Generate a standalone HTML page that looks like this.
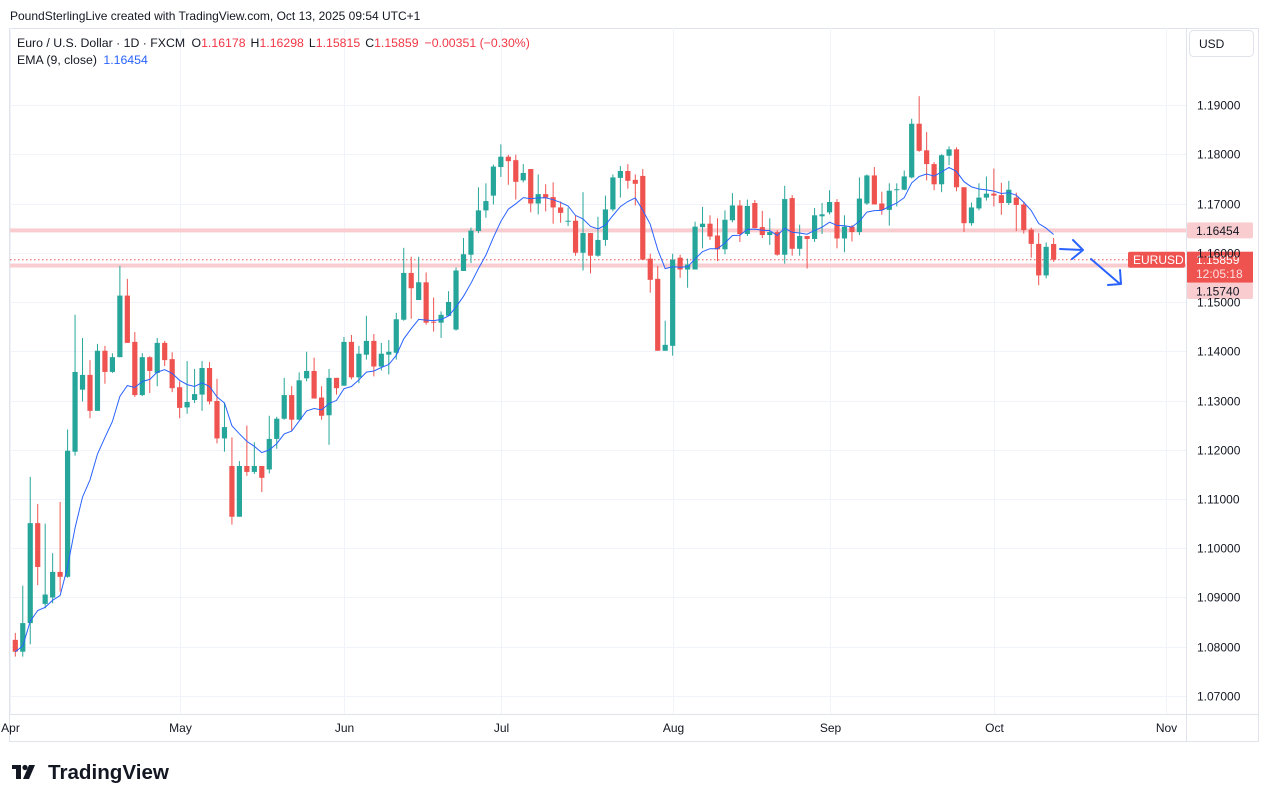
<!DOCTYPE html>
<html><head><meta charset="utf-8">
<style>
html,body{margin:0;padding:0;background:#fff;}
body{width:1268px;height:802px;overflow:hidden;position:relative;font-family:"Liberation Sans",sans-serif;}
svg{position:absolute;left:0;top:0;}
</style></head>
<body>
<svg id="chart" width="1268" height="802" viewBox="0 0 1268 802" xmlns="http://www.w3.org/2000/svg">
  <text x="10" y="20" font-size="12" fill="#131722" font-family="Liberation Sans, sans-serif">PoundSterlingLive created with TradingView.com, Oct 13, 2025 09:54 UTC+1</text>
  <rect x="9.5" y="28.5" width="1249" height="713" fill="none" stroke="#e0e3eb"/>
  <g id="grid"></g>
  <g id="levels"></g>
  <g id="candles"></g>
  <g id="ema"></g>
  <g id="overlay"></g>
  <line x1="1186.5" y1="28" x2="1186.5" y2="742" stroke="#e0e3eb"/>
  <line x1="9" y1="714.5" x2="1258" y2="714.5" stroke="#e0e3eb"/>
  <g id="yaxis"></g>
  <g id="xaxis"></g>
  <rect x="1189.5" y="30.5" width="64" height="26" rx="4" fill="#fff" stroke="#e0e3eb"/>
  <text x="1199" y="48" font-size="12" fill="#131722" font-family="Liberation Sans, sans-serif">USD</text>
  <text x="17" y="47" font-size="12.3" fill="#131722" font-family="Liberation Sans, sans-serif">Euro / U.S. Dollar · 1D · FXCM <tspan dx="3">O</tspan><tspan fill="#f23645">1.16178</tspan><tspan dx="5">H</tspan><tspan fill="#f23645">1.16298</tspan><tspan dx="5">L</tspan><tspan fill="#f23645">1.15815</tspan><tspan dx="5">C</tspan><tspan fill="#f23645">1.15859</tspan><tspan dx="6" fill="#f23645">−0.00351 (−0.30%)</tspan></text>
  <text x="17" y="64" font-size="12.3" fill="#131722" font-family="Liberation Sans, sans-serif">EMA (9, close) <tspan dx="3" fill="#2962ff">1.16454</tspan></text>
  <g>
    <rect x="12" y="765" width="9" height="4" fill="#131722"/>
    <rect x="16" y="765" width="5" height="14" fill="#131722"/>
    <circle cx="25" cy="767.5" r="2.6" fill="#131722"/>
    <polygon points="29,765 35,765 29,779 23,779" fill="#131722"/>
    <text x="48" y="779" font-size="20.6" font-weight="bold" fill="#131722" font-family="Liberation Sans, sans-serif">TradingView</text>
  </g>
</svg>
<script>
const dates = ["Apr","May","Jun","Jul","Aug","Sep","Oct","Nov"];
const dateBarIdx = [-0.7,22,44,65,88,109,131,154];
const priceTicks = [1.07,1.08,1.09,1.10,1.11,1.12,1.13,1.14,1.15,1.16,1.17,1.18,1.19];
const opens = [1.0814,1.0790,1.0848,1.1051,1.0887,1.0900,1.0952,1.0942,1.1196,1.1322,1.1352,1.1279,1.1401,1.1358,1.1388,1.1513,1.1419,1.1311,1.1388,1.1356,1.1417,1.1384,1.1327,1.1286,1.1301,1.1312,1.1366,1.1299,1.1223,1.1167,1.1064,1.1167,1.1155,1.1167,1.1160,1.1222,1.1263,1.1311,1.1261,1.1345,1.1360,1.1306,1.1270,1.1346,1.1330,1.1419,1.1347,1.1393,1.1421,1.1369,1.1393,1.1397,1.1464,1.1559,1.1504,1.1540,1.1460,1.1458,1.1472,1.1444,1.1563,1.1596,1.1644,1.1686,1.1716,1.1774,1.1795,1.1788,1.1747,1.1770,1.1700,1.1719,1.1713,1.1692,1.1663,1.1665,1.1600,1.1640,1.1594,1.1626,1.1688,1.1752,1.1766,1.1748,1.1756,1.1588,1.1547,1.1401,1.1411,1.1590,1.1566,1.1566,1.1652,1.1659,1.1635,1.1607,1.1666,1.1696,1.1638,1.1701,1.1652,1.1636,1.1642,1.1596,1.1711,1.1608,1.1634,1.1628,1.1674,1.1682,1.1703,1.1629,1.1653,1.1642,1.1700,1.1757,1.1700,1.1687,1.1727,1.1728,1.1753,1.1862,1.1808,1.1780,1.1739,1.1797,1.1810,1.1733,1.1660,1.1690,1.1712,1.1720,1.1717,1.1701,1.1712,1.1698,1.1647,1.1618,1.1554,1.16178];
const highs = [1.0828,1.0924,1.1145,1.1090,1.1050,1.0990,1.1094,1.1241,1.1474,1.1427,1.1382,1.1415,1.1411,1.1396,1.1573,1.1547,1.1439,1.1396,1.1390,1.1427,1.1421,1.1398,1.1339,1.1380,1.1364,1.1380,1.1378,1.1344,1.1296,1.1225,1.1177,1.1249,1.1215,1.1167,1.1269,1.1267,1.1346,1.1329,1.1357,1.1399,1.1387,1.1329,1.1364,1.1346,1.1429,1.1433,1.1411,1.1472,1.1435,1.1417,1.1423,1.1478,1.1610,1.1592,1.1592,1.1560,1.1509,1.1481,1.1522,1.1570,1.1630,1.1651,1.1733,1.1741,1.1779,1.1820,1.1799,1.1799,1.1780,1.1770,1.1759,1.1739,1.1743,1.1704,1.1692,1.1675,1.1723,1.1640,1.1673,1.1716,1.1759,1.1776,1.1780,1.1759,1.1770,1.1598,1.1573,1.1462,1.1598,1.1596,1.1588,1.1663,1.1693,1.1676,1.1670,1.1686,1.1721,1.1707,1.1708,1.1707,1.1685,1.1670,1.1646,1.1736,1.1717,1.1657,1.1634,1.1691,1.1701,1.1727,1.1709,1.1676,1.1656,1.1753,1.1759,1.1774,1.1724,1.1741,1.1741,1.1767,1.1872,1.1918,1.1845,1.1784,1.1800,1.1816,1.1814,1.1733,1.1702,1.1741,1.1755,1.1771,1.1742,1.1746,1.1722,1.1704,1.1651,1.1640,1.1621,1.16298];
const lows = [1.0780,1.0780,1.0805,1.0925,1.0878,1.0888,1.0912,1.0940,1.1188,1.1298,1.1264,1.1279,1.1334,1.1356,1.1388,1.1417,1.1307,1.1309,1.1315,1.1329,1.1370,1.1317,1.1264,1.1273,1.1295,1.1279,1.1292,1.1213,1.1196,1.1048,1.1064,1.1147,1.1151,1.1114,1.1152,1.1202,1.1261,1.1239,1.1261,1.1339,1.1304,1.1261,1.1210,1.1312,1.1330,1.1343,1.1335,1.1383,1.1349,1.1361,1.1353,1.1383,1.1462,1.1466,1.1504,1.1454,1.1440,1.1427,1.1472,1.1442,1.1563,1.1579,1.1640,1.1671,1.1698,1.1754,1.1738,1.1708,1.1743,1.1682,1.1678,1.1684,1.1659,1.1661,1.1654,1.1594,1.1564,1.1558,1.1592,1.1614,1.1684,1.1712,1.1730,1.1696,1.1586,1.1519,1.1401,1.1401,1.1391,1.1549,1.1529,1.1566,1.1609,1.1626,1.1583,1.1597,1.1662,1.1622,1.1634,1.1650,1.1630,1.1616,1.1594,1.1578,1.1594,1.1594,1.1568,1.1622,1.1638,1.1678,1.1609,1.1601,1.1623,1.1636,1.1697,1.1698,1.1677,1.1655,1.1694,1.1727,1.1751,1.1805,1.1747,1.1727,1.1723,1.1778,1.1725,1.1642,1.1655,1.1686,1.1706,1.1694,1.1677,1.1697,1.1644,1.1639,1.1590,1.1534,1.1548,1.15815];
const closes = [1.0790,1.0848,1.1051,1.0962,1.0906,1.0952,1.0942,1.1198,1.1358,1.1352,1.1279,1.1401,1.1358,1.1388,1.1513,1.1417,1.1311,1.1388,1.1360,1.1417,1.1382,1.1325,1.1285,1.1297,1.1313,1.1366,1.1298,1.1223,1.1246,1.1064,1.1167,1.1155,1.1167,1.1143,1.1222,1.1263,1.1311,1.1261,1.1341,1.1360,1.1304,1.1269,1.1346,1.1325,1.1419,1.1347,1.1395,1.1421,1.1369,1.1395,1.1399,1.1465,1.1559,1.1528,1.1540,1.1458,1.1458,1.1474,1.1500,1.1564,1.1597,1.1645,1.1686,1.1705,1.1775,1.1795,1.1786,1.1744,1.1762,1.1700,1.1719,1.1712,1.1692,1.1681,1.1665,1.1600,1.1640,1.1594,1.1626,1.1688,1.1753,1.1766,1.1746,1.1740,1.1586,1.1545,1.1401,1.1413,1.1586,1.1566,1.1576,1.1653,1.1659,1.1633,1.1607,1.1667,1.1696,1.1638,1.1695,1.1650,1.1636,1.1642,1.1596,1.1709,1.1608,1.1634,1.1628,1.1676,1.1678,1.1703,1.1629,1.1653,1.1642,1.1710,1.1757,1.1698,1.1687,1.1726,1.1729,1.1755,1.1862,1.1807,1.1780,1.1739,1.1798,1.1810,1.1733,1.1660,1.1692,1.1712,1.1720,1.1716,1.1701,1.1728,1.1697,1.1646,1.1618,1.1554,1.1612,1.15859];
const levelPrices = [1.16454, 1.15740];
const lastPrice = 1.15859;
const NS = "http://www.w3.org/2000/svg";
const yS = p => 105 + (1.19 - p) * 4925;
const xS = i => 15.3 + i * 7.47;
function mk(tag, attrs, parent, txt){
  const e = document.createElementNS(NS, tag);
  for (const k in attrs) e.setAttribute(k, attrs[k]);
  if (txt !== undefined) e.textContent = txt;
  parent.appendChild(e);
  return e;
}
const grid = document.getElementById('grid');
const yaxis = document.getElementById('yaxis');
const xaxis = document.getElementById('xaxis');
priceTicks.forEach(p => {
  const y = Math.round(yS(p)) + 0.5;
  const gl = mk('line', {x1:10, x2:1186, y1:y, y2:y, stroke:'#f0f3fa'}, grid);
  
  
  const t = mk('text', {x:1197, y:y+4, 'font-size':12, fill:'#131722', 'font-family':'Liberation Sans, sans-serif'}, yaxis, p.toFixed(5));
  
  
});
dates.forEach((d, k) => {
  const x = Math.round(xS(dateBarIdx[k])) + 0.5;
  const gl = mk('line', {x1:x, x2:x, y1:28, y2:714, stroke:'#f0f3fa'}, grid);
  
  
  const t = mk('text', {x:x, y:732, 'font-size':12, fill:'#131722', 'text-anchor':'middle', 'font-family':'Liberation Sans, sans-serif'}, xaxis, d);
  
  
});
const levels = document.getElementById('levels');
levelPrices.forEach(p => {
  const y = yS(p);
  const l = mk('rect', {x:10, y:y-2, width:1176, height:4, fill:'#f9cdd0'}, levels);
  
  
});
const pl = mk('line', {x1:10, x2:1186, y1:yS(lastPrice), y2:yS(lastPrice), stroke:'#ef5350', 'stroke-dasharray':'1.5 2.5'}, levels);


const cg = document.getElementById('candles');
for (let i = 0; i < closes.length; i++) {
  const up = closes[i] >= opens[i];
  const col = up ? '#26a69a' : '#ef5350';
  const x = xS(i);
  const g = mk('g', {}, cg);
  
  
  mk('line', {x1:x, x2:x, y1:yS(highs[i]), y2:yS(lows[i]), stroke:col, 'stroke-width':1}, g);
  const top = yS(Math.max(opens[i], closes[i]));
  const h = Math.max(1, yS(Math.min(opens[i], closes[i])) - top);
  mk('rect', {x:x-2.6, y:top, width:5.2, height:h, fill:col}, g);
}
const ema = [];
const k = 2 / 10;
closes.forEach((c, i) => ema.push(i === 0 ? c : c * k + ema[i-1] * (1 - k)));
const d = ema.map((v, i) => (i ? 'L' : 'M') + xS(i).toFixed(1) + ' ' + yS(v).toFixed(1)).join(' ');
const ep = mk('path', {d:d, fill:'none', stroke:'#2962ff', 'stroke-width':1}, document.getElementById('ema'));


const ov = document.getElementById('overlay');
const a1 = mk('path', {d:'M1060 249 L1083 250 M1073 240 L1083 250 L1072 259', fill:'none', stroke:'#2962ff', 'stroke-width':2, 'stroke-linecap':'round', 'stroke-linejoin':'round'}, ov);


const a2 = mk('path', {d:'M1091 259 L1120 284 M1108 285 L1121 284 L1120 270', fill:'none', stroke:'#2962ff', 'stroke-width':2, 'stroke-linecap':'round', 'stroke-linejoin':'round'}, ov);


const y1 = yS(levelPrices[0]);
const b1 = mk('rect', {x:1187, y:y1-8, width:66, height:16, rx:2, fill:'#f9cdd0'}, ov);


mk('text', {x:1196, y:y1+4.5, 'font-size':12, fill:'#131722', 'font-family':'Liberation Sans, sans-serif'}, ov, levelPrices[0].toFixed(5));
const b2 = mk('rect', {x:1187, y:283, width:66, height:16, rx:2, fill:'#f9cdd0'}, ov);


mk('text', {x:1196, y:295.5, 'font-size':12, fill:'#131722', 'font-family':'Liberation Sans, sans-serif'}, ov, levelPrices[1].toFixed(5));
const yl = yS(lastPrice);
const sb = mk('rect', {x:1128, y:yl-8, width:57, height:16, rx:2, fill:'#ef5350'}, ov);


mk('text', {x:1133, y:yl+4.5, 'font-size':12, fill:'#fff', 'font-family':'Liberation Sans, sans-serif'}, ov, 'EURUSD');
const lb = mk('rect', {x:1187, y:yl-8, width:66, height:31, fill:'#ef5350'}, ov);


mk('text', {x:1196, y:yl+4.5, 'font-size':12, fill:'#fff', 'font-family':'Liberation Sans, sans-serif'}, ov, lastPrice.toFixed(5));
mk('text', {x:1196, y:yl+18.5, 'font-size':12, fill:'#fde0e0', 'font-family':'Liberation Sans, sans-serif'}, ov, '12:05:18');
</script>
</body></html>
